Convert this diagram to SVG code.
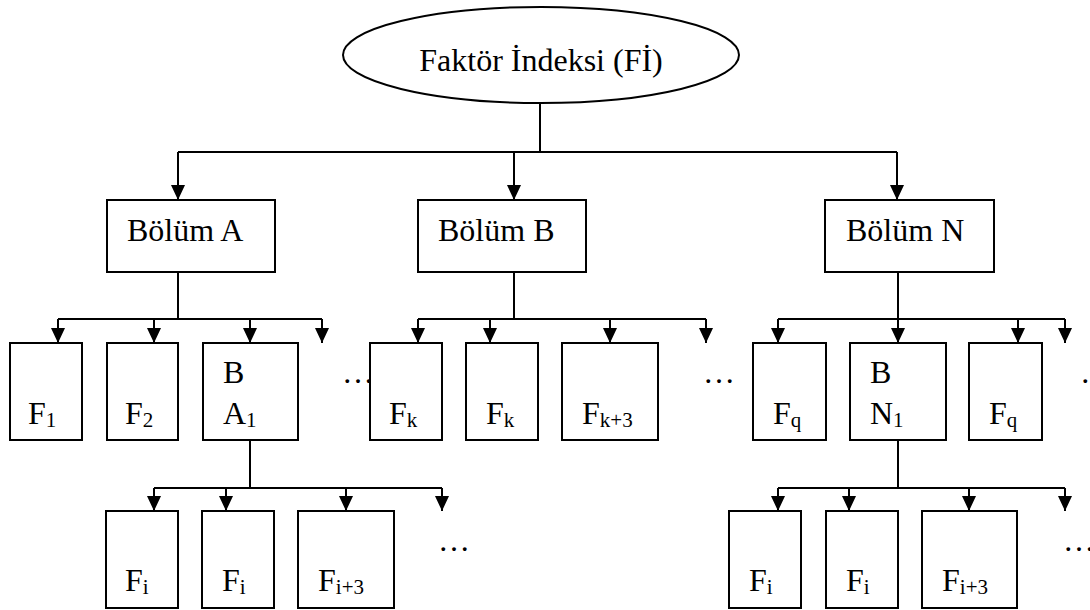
<svg xmlns="http://www.w3.org/2000/svg" width="1090" height="610" viewBox="0 0 1090 610">
  <style>
    .box { fill: #ffffff; stroke: #000000; stroke-width: 2; }
    .wire { fill: none; stroke: #000000; stroke-width: 2; }
    .lbl { font-family: "Liberation Serif", "Times New Roman", serif; font-size: 32px; fill: #000000; }
    .sub { font-size: 21px; }
  </style>
  <defs>
    <marker id="arrow" markerUnits="userSpaceOnUse" viewBox="0 0 15 14" refX="15" refY="7" markerWidth="15" markerHeight="14" orient="auto">
      <path d="M0,0 L15,7 L0,14 z" fill="#000000"/>
    </marker>
  </defs>

  <rect width="1090" height="610" fill="#ffffff"/>

  <!-- connectors -->
  <g id="connectors" class="wire">
    <!-- root to sections -->
    <path d="M540,103 V152 M178,152 H897"/>
    <path d="M178,152 V200" marker-end="url(#arrow)"/>
    <path d="M514,152 V200" marker-end="url(#arrow)"/>
    <path d="M897,152 V200" marker-end="url(#arrow)"/>

    <!-- Bölüm A children -->
    <path d="M178,272 V319 M58,319 H322"/>
    <path d="M58,319 V343" marker-end="url(#arrow)"/>
    <path d="M154,319 V343" marker-end="url(#arrow)"/>
    <path d="M250,319 V343" marker-end="url(#arrow)"/>
    <path d="M322,319 V343" marker-end="url(#arrow)"/>

    <!-- Bölüm B children -->
    <path d="M514,272 V319 M418,319 H706"/>
    <path d="M418,319 V343" marker-end="url(#arrow)"/>
    <path d="M490,319 V343" marker-end="url(#arrow)"/>
    <path d="M610,319 V343" marker-end="url(#arrow)"/>
    <path d="M706,319 V343" marker-end="url(#arrow)"/>

    <!-- Bölüm N children -->
    <path d="M898,272 V319 M778,319 H1065"/>
    <path d="M778,319 V343" marker-end="url(#arrow)"/>
    <path d="M898,319 V343" marker-end="url(#arrow)"/>
    <path d="M1018,319 V343" marker-end="url(#arrow)"/>
    <path d="M1065,319 V343" marker-end="url(#arrow)"/>

    <!-- BA1 children -->
    <path d="M250,440 V488 M154,488 H442"/>
    <path d="M154,488 V511" marker-end="url(#arrow)"/>
    <path d="M226,488 V511" marker-end="url(#arrow)"/>
    <path d="M346,488 V511" marker-end="url(#arrow)"/>
    <path d="M442,488 V511" marker-end="url(#arrow)"/>

    <!-- BN1 children -->
    <path d="M898,440 V488 M778,488 H1065"/>
    <path d="M778,488 V511" marker-end="url(#arrow)"/>
    <path d="M849,488 V511" marker-end="url(#arrow)"/>
    <path d="M969,488 V511" marker-end="url(#arrow)"/>
    <path d="M1065,488 V511" marker-end="url(#arrow)"/>
  </g>

  <!-- root -->
  <g id="root">
    <ellipse class="box" cx="541" cy="55" rx="198" ry="48"/>
    <text class="lbl" x="541" y="71" text-anchor="middle">Faktör İndeksi (Fİ)</text>
  </g>

  <!-- sections -->
  <g id="bolum-a">
    <rect class="box" x="107" y="200" width="168" height="72"/>
    <text class="lbl" x="127" y="241">Bölüm A</text>
  </g>
  <g id="bolum-b">
    <rect class="box" x="418" y="200" width="168" height="72"/>
    <text class="lbl" x="438" y="241">Bölüm B</text>
  </g>
  <g id="bolum-n">
    <rect class="box" x="825" y="200" width="169" height="72"/>
    <text class="lbl" x="846" y="241">Bölüm N</text>
  </g>

  <!-- factors under Bölüm A -->
  <g id="a-f1">
    <rect class="box" x="10" y="343" width="72" height="97"/>
    <text class="lbl" x="28" y="424">F<tspan class="sub" dy="3">1</tspan></text>
  </g>
  <g id="a-f2">
    <rect class="box" x="107" y="343" width="71" height="97"/>
    <text class="lbl" x="125" y="424">F<tspan class="sub" dy="3">2</tspan></text>
  </g>
  <g id="a-ba1">
    <rect class="box" x="203" y="343" width="95" height="97"/>
    <text class="lbl" x="223" y="383">B</text>
    <text class="lbl" x="223" y="424">A<tspan class="sub" dy="3">1</tspan></text>
  </g>
  <text id="a-more" class="lbl" x="342" y="383">…</text>

  <!-- factors under Bölüm B -->
  <g id="b-fk1">
    <rect class="box" x="370" y="343" width="72" height="97"/>
    <text class="lbl" x="389" y="424">F<tspan class="sub" dy="3">k</tspan></text>
  </g>
  <g id="b-fk2">
    <rect class="box" x="466" y="343" width="72" height="97"/>
    <text class="lbl" x="486" y="424">F<tspan class="sub" dy="3">k</tspan></text>
  </g>
  <g id="b-fk3">
    <rect class="box" x="562" y="343" width="96" height="97"/>
    <text class="lbl" x="582" y="424">F<tspan class="sub" dy="3">k+3</tspan></text>
  </g>
  <text id="b-more" class="lbl" x="703" y="383">…</text>

  <!-- factors under Bölüm N -->
  <g id="n-fq1">
    <rect class="box" x="753" y="343" width="73" height="97"/>
    <text class="lbl" x="773" y="424">F<tspan class="sub" dy="3">q</tspan></text>
  </g>
  <g id="n-bn1">
    <rect class="box" x="850" y="343" width="96" height="97"/>
    <text class="lbl" x="870" y="383">B</text>
    <text class="lbl" x="870" y="424">N<tspan class="sub" dy="3">1</tspan></text>
  </g>
  <g id="n-fq2">
    <rect class="box" x="969" y="343" width="73" height="97"/>
    <text class="lbl" x="989" y="424">F<tspan class="sub" dy="3">q</tspan></text>
  </g>
  <text id="n-more" class="lbl" x="1080" y="383">…</text>

  <!-- factors under BA1 -->
  <g id="ba1-fi1">
    <rect class="box" x="106" y="511" width="72" height="97"/>
    <text class="lbl" x="125" y="591">F<tspan class="sub" dy="3">i</tspan></text>
  </g>
  <g id="ba1-fi2">
    <rect class="box" x="202" y="511" width="72" height="97"/>
    <text class="lbl" x="222" y="591">F<tspan class="sub" dy="3">i</tspan></text>
  </g>
  <g id="ba1-fi3">
    <rect class="box" x="298" y="511" width="96" height="97"/>
    <text class="lbl" x="318" y="591">F<tspan class="sub" dy="3">i+3</tspan></text>
  </g>
  <text id="ba1-more" class="lbl" x="438" y="551">…</text>

  <!-- factors under BN1 -->
  <g id="bn1-fi1">
    <rect class="box" x="729" y="511" width="72" height="97"/>
    <text class="lbl" x="749" y="591">F<tspan class="sub" dy="3">i</tspan></text>
  </g>
  <g id="bn1-fi2">
    <rect class="box" x="826" y="511" width="72" height="97"/>
    <text class="lbl" x="846" y="591">F<tspan class="sub" dy="3">i</tspan></text>
  </g>
  <g id="bn1-fi3">
    <rect class="box" x="922" y="511" width="95" height="97"/>
    <text class="lbl" x="942" y="591">F<tspan class="sub" dy="3">i+3</tspan></text>
  </g>
  <text id="bn1-more" class="lbl" x="1063" y="551">…</text>
</svg>
